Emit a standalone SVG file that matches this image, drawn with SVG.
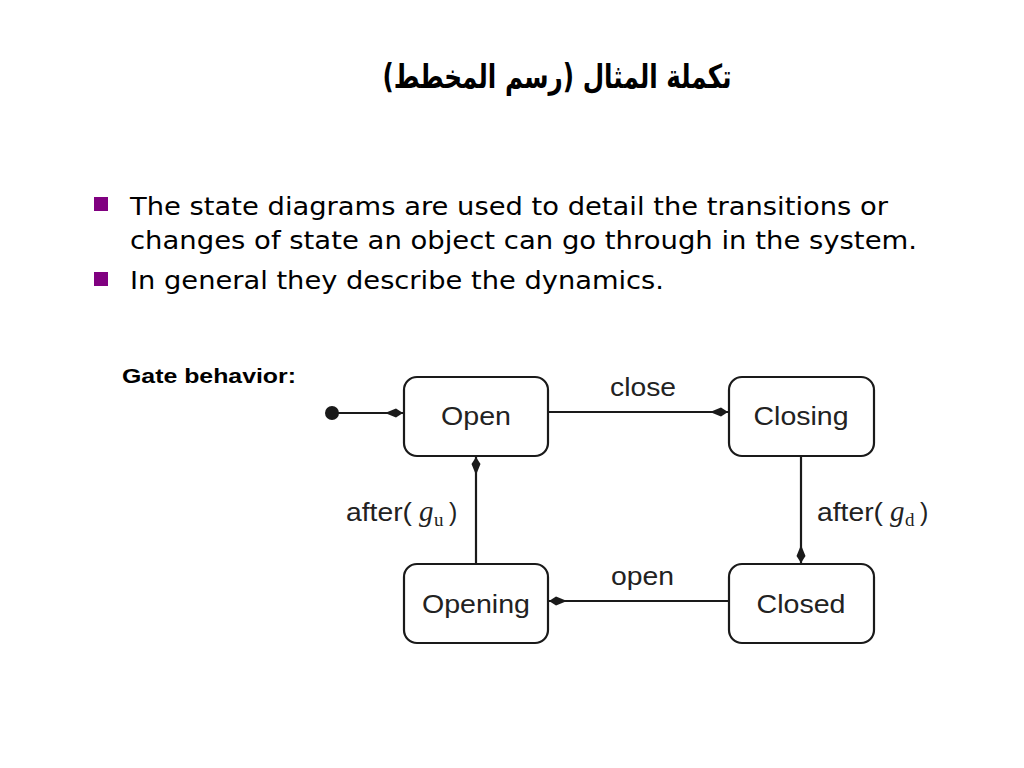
<svg xmlns="http://www.w3.org/2000/svg" width="1024" height="768" viewBox="0 0 1024 768">
<style>
.node rect{fill:#fff;stroke:#1a1a1a;stroke-width:2.2}
.node text,.lbl{font-family:"Liberation Sans",Arial,sans-serif;font-size:25px;fill:#222}
.node text{text-anchor:middle}
.conn line{stroke:#1a1a1a;stroke-width:2.2}
.bul{font-family:"DejaVu Sans",Tahoma,sans-serif;font-size:25px;fill:#000}
.g{font-family:"Liberation Serif","Times New Roman",serif}
</style>
<defs>
<marker id="ah" markerUnits="userSpaceOnUse" markerWidth="24" markerHeight="12" viewBox="-19 -6 20 12" refX="0" refY="0" orient="auto">
<path d="M0,0 L-7,-4.5 L-18,0 L-7,4.5 Z" fill="#1a1a1a"/>
</marker>
</defs>
<rect width="1024" height="768" fill="#fff"/>
<text x="557" y="88" direction="rtl" text-anchor="middle" font-family="'DejaVu Sans',sans-serif" font-weight="bold" font-size="33" textLength="349" lengthAdjust="spacingAndGlyphs" fill="#000">تكملة المثال (رسم المخطط)</text>
<rect x="94" y="197" width="14" height="14" fill="#800080"/>
<rect x="94" y="272" width="14" height="14" fill="#800080"/>
<text class="bul" x="130" y="215" textLength="758" lengthAdjust="spacingAndGlyphs">The state diagrams are used to detail the transitions or</text>
<text class="bul" x="130" y="249" textLength="787" lengthAdjust="spacingAndGlyphs">changes of state an object can go through in the system.</text>
<text class="bul" x="130" y="289" textLength="534" lengthAdjust="spacingAndGlyphs">In general they describe the dynamics.</text>
<text x="122" y="383" font-family="'Liberation Sans',sans-serif" font-weight="bold" font-size="21" textLength="174" lengthAdjust="spacingAndGlyphs" fill="#000">Gate behavior:</text>
<g class="conn">
<circle cx="332" cy="413" r="7" fill="#1a1a1a"/>
<line x1="332" y1="413" x2="403" y2="413" marker-end="url(#ah)"/>
<line x1="548" y1="412" x2="728" y2="412" marker-end="url(#ah)"/>
<line x1="801" y1="456" x2="801" y2="563" marker-end="url(#ah)"/>
<line x1="729" y1="601" x2="549" y2="601" marker-end="url(#ah)"/>
<line x1="476" y1="564" x2="476" y2="457" marker-end="url(#ah)"/>
<text class="lbl" x="610" y="396" textLength="66" lengthAdjust="spacingAndGlyphs">close</text>
<text class="lbl" x="611" y="585" textLength="63" lengthAdjust="spacingAndGlyphs">open</text>
<text class="lbl" y="521"><tspan x="346" textLength="66" lengthAdjust="spacingAndGlyphs">after(</tspan><tspan class="g" x="419" font-style="italic" font-size="29">g</tspan><tspan class="g" x="434" font-size="19" dy="5">u</tspan><tspan x="449" dy="-5">)</tspan></text>
<text class="lbl" y="521"><tspan x="817" textLength="66" lengthAdjust="spacingAndGlyphs">after(</tspan><tspan class="g" x="890" font-style="italic" font-size="29">g</tspan><tspan class="g" x="905" font-size="19" dy="5">d</tspan><tspan x="920" dy="-5">)</tspan></text>
</g>
<g id="open" class="node"><rect x="404" y="377" width="144" height="79" rx="13"/><text x="476" y="425" textLength="70" lengthAdjust="spacingAndGlyphs">Open</text></g>
<g id="closing" class="node"><rect x="729" y="377" width="145" height="79" rx="13"/><text x="801" y="425" textLength="95" lengthAdjust="spacingAndGlyphs">Closing</text></g>
<g id="opening" class="node"><rect x="404" y="564" width="144" height="79" rx="13"/><text x="476" y="613" textLength="108" lengthAdjust="spacingAndGlyphs">Opening</text></g>
<g id="closed" class="node"><rect x="729" y="564" width="145" height="79" rx="13"/><text x="801" y="613" textLength="89" lengthAdjust="spacingAndGlyphs">Closed</text></g>
</svg>
